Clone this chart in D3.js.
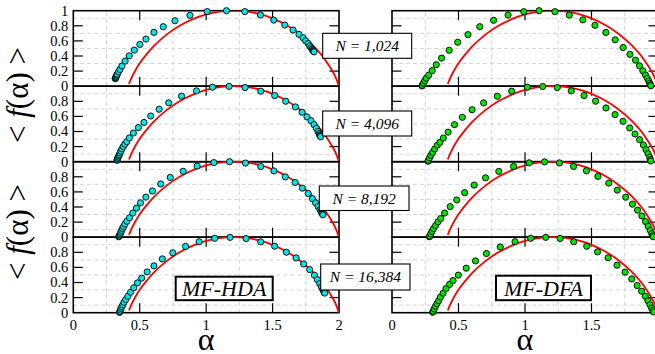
<!DOCTYPE html>
<html>
<head>
<meta charset="utf-8">
<script src="https://cdn.jsdelivr.net/npm/d3@7"></script>
<style>
  html, body { margin: 0; padding: 0; background: #fff; }
  svg, svg text { font-family: "Liberation Serif", "DejaVu Serif", serif; }
</style>
</head>
<body>
<script>
// Singularity spectra <f(alpha)> of a binomial cascade, estimated with
// MF-HDA (left column) and MF-DFA (right column) for four series lengths.

const sizeLabels = ["N = 1,024", "N = 4,096", "N = 8,192", "N = 16,384"];
const methodLabels = ["MF-HDA", "MF-DFA"];

const alphaTicks = [0, 0.5, 1, 1.5, 2];
const alphaTickLabels = ["0", "0.5", "1", "1.5", "2"];
const alphaGrid = [0.25, 0.75, 1.25, 1.75];
const fTicks = [0, 0.2, 0.4, 0.6, 0.8, 1];
const fTickLabels = ["0", "0.2", "0.4", "0.6", "0.8", "1"];
const fGrid = [0.1, 0.3, 0.5, 0.7, 0.9];

// theoretical spectrum (red line)
const theoryAlpha = [0.42, 0.425, 0.43, 0.44, 0.45, 0.47, 0.5, 0.55, 0.6, 0.7, 0.8, 0.9, 1.0, 1.1, 1.2, 1.3, 1.4, 1.5, 1.6, 1.7, 1.8, 1.9, 1.95, 1.98, 2.0];
const theoryF     = [0.03, 0.055, 0.077, 0.117, 0.152, 0.218, 0.303, 0.419, 0.521, 0.68, 0.80, 0.888, 0.95, 0.987, 1.0, 0.99, 0.957, 0.899, 0.814, 0.699, 0.546, 0.339, 0.202, 0.098, 0.0];

// MF-HDA estimates, [alpha, f]
const hda1024 = [[0.316,0.100],[0.318,0.106],[0.319,0.112],[0.321,0.120],[0.324,0.133],[0.327,0.146],[0.331,0.160],[0.340,0.190],[0.351,0.222],[0.366,0.268],[0.390,0.332],[0.421,0.402],[0.459,0.478],[0.501,0.554],[0.547,0.624],[0.607,0.713],[0.677,0.788],[0.765,0.867],[0.878,0.939],[1.008,0.988],[1.153,1.0],[1.291,0.988],[1.409,0.943],[1.509,0.876],[1.592,0.810],[1.654,0.744],[1.699,0.687],[1.729,0.642],[1.749,0.602],[1.767,0.567],[1.779,0.535],[1.790,0.509],[1.798,0.490],[1.803,0.477],[1.807,0.467],[1.810,0.460],[1.812,0.455]];
const hda4096 = [[0.329,0.018],[0.331,0.030],[0.334,0.045],[0.338,0.060],[0.343,0.078],[0.347,0.095],[0.352,0.117],[0.358,0.140],[0.366,0.170],[0.376,0.200],[0.388,0.232],[0.403,0.265],[0.422,0.315],[0.452,0.380],[0.490,0.452],[0.532,0.520],[0.583,0.605],[0.646,0.695],[0.718,0.780],[0.815,0.868],[0.927,0.938],[1.048,0.987],[1.173,0.998],[1.293,0.982],[1.411,0.934],[1.516,0.876],[1.599,0.801],[1.672,0.726],[1.722,0.655],[1.759,0.593],[1.789,0.544],[1.812,0.491],[1.830,0.442],[1.842,0.400],[1.850,0.370],[1.855,0.352],[1.859,0.340],[1.862,0.332]];
const hda8192 = [[0.342,0.006],[0.345,0.015],[0.349,0.030],[0.353,0.045],[0.358,0.066],[0.364,0.090],[0.370,0.115],[0.378,0.140],[0.388,0.173],[0.403,0.212],[0.423,0.258],[0.448,0.320],[0.476,0.385],[0.506,0.456],[0.546,0.531],[0.596,0.612],[0.658,0.705],[0.730,0.792],[0.827,0.873],[0.932,0.942],[1.058,0.988],[1.176,1.0],[1.296,0.982],[1.411,0.936],[1.510,0.878],[1.596,0.800],[1.670,0.725],[1.724,0.650],[1.768,0.580],[1.800,0.510],[1.824,0.455],[1.843,0.405],[1.857,0.365],[1.866,0.338],[1.872,0.318],[1.876,0.305],[1.879,0.296]];
const hda16384 = [[0.348,0.004],[0.351,0.015],[0.355,0.035],[0.359,0.058],[0.366,0.080],[0.373,0.105],[0.382,0.138],[0.395,0.175],[0.411,0.218],[0.431,0.270],[0.455,0.330],[0.483,0.395],[0.515,0.458],[0.556,0.540],[0.607,0.620],[0.670,0.713],[0.749,0.793],[0.845,0.878],[0.947,0.940],[1.064,0.985],[1.180,0.998],[1.301,0.982],[1.411,0.938],[1.516,0.881],[1.604,0.801],[1.677,0.726],[1.734,0.646],[1.779,0.571],[1.815,0.496],[1.837,0.438],[1.855,0.385],[1.868,0.340],[1.878,0.305],[1.885,0.282],[1.890,0.268],[1.893,0.260]];

// MF-DFA estimates, [alpha, f]
const dfa1024 = [[0.226,0.004],[0.228,0.012],[0.236,0.040],[0.246,0.071],[0.258,0.106],[0.276,0.146],[0.302,0.206],[0.333,0.285],[0.373,0.372],[0.430,0.476],[0.494,0.582],[0.571,0.683],[0.660,0.788],[0.764,0.873],[0.873,0.942],[0.991,0.987],[1.106,1.0],[1.225,0.987],[1.333,0.942],[1.435,0.879],[1.526,0.807],[1.608,0.712],[1.678,0.615],[1.738,0.513],[1.789,0.422],[1.831,0.345],[1.861,0.270],[1.886,0.204],[1.906,0.148],[1.920,0.104],[1.931,0.068],[1.938,0.038],[1.943,0.016],[1.946,0.006]];
const dfa4096 = [[0.271,0.006],[0.274,0.018],[0.282,0.050],[0.292,0.084],[0.305,0.122],[0.321,0.168],[0.341,0.219],[0.361,0.257],[0.386,0.314],[0.422,0.392],[0.470,0.491],[0.529,0.588],[0.602,0.688],[0.689,0.779],[0.792,0.867],[0.900,0.934],[1.018,0.987],[1.133,0.996],[1.243,0.982],[1.348,0.938],[1.444,0.876],[1.531,0.801],[1.609,0.712],[1.677,0.624],[1.737,0.535],[1.787,0.447],[1.827,0.367],[1.862,0.292],[1.890,0.221],[1.910,0.159],[1.925,0.106],[1.937,0.058],[1.943,0.028],[1.946,0.010]];
const dfa8192 = [[0.281,0.006],[0.284,0.015],[0.291,0.044],[0.301,0.078],[0.312,0.115],[0.328,0.155],[0.346,0.203],[0.366,0.248],[0.396,0.320],[0.438,0.405],[0.487,0.493],[0.546,0.590],[0.618,0.690],[0.703,0.786],[0.803,0.872],[0.914,0.937],[1.031,0.985],[1.147,0.998],[1.259,0.984],[1.365,0.938],[1.462,0.880],[1.548,0.806],[1.630,0.717],[1.694,0.624],[1.757,0.530],[1.808,0.438],[1.846,0.358],[1.879,0.281],[1.906,0.208],[1.926,0.146],[1.942,0.090],[1.953,0.046],[1.960,0.016],[1.963,0.006]];
const dfa16384 = [[0.306,0.006],[0.310,0.018],[0.317,0.050],[0.327,0.084],[0.338,0.120],[0.351,0.159],[0.364,0.206],[0.384,0.258],[0.406,0.320],[0.433,0.375],[0.459,0.426],[0.499,0.498],[0.558,0.590],[0.628,0.686],[0.710,0.784],[0.814,0.871],[0.925,0.940],[1.043,0.985],[1.156,0.998],[1.264,0.984],[1.366,0.940],[1.464,0.880],[1.545,0.806],[1.625,0.728],[1.692,0.630],[1.753,0.537],[1.803,0.447],[1.843,0.360],[1.877,0.285],[1.904,0.218],[1.924,0.158],[1.940,0.105],[1.952,0.060],[1.961,0.030],[1.968,0.010]];

const hdaSeries = [hda1024, hda4096, hda8192, hda16384];
const dfaSeries = [dfa1024, dfa4096, dfa8192, dfa16384];

const W = 655, H = 354;
const plotTop = 10.7, panelH = 75.5, nPanels = 4;
const plotBottom = plotTop + nPanels * panelH;
const tickLen = 9.5;
const serif = "Liberation Serif";

const svg = d3.select("body").append("svg")
  .attr("width", W).attr("height", H)
  .attr("viewBox", `0 0 ${W} ${H}`)
  .attr("font-family", serif);
svg.append("rect").attr("width", W).attr("height", H).attr("fill", "#fff");

const columns = [
  { x0: 73.3, x1: 339, series: hdaSeries, fill: "#00e6e6", method: methodLabels[0], fLabels: true,
    box: { x: 175.7, y: 276.7, w: 97, h: 23.5 } },
  { x0: 392, x1: 658, series: dfaSeries, fill: "#00e400", method: methodLabels[1], fLabels: false,
    box: { x: 496, y: 275.7, w: 95, h: 24.5 } }
];

const theory = theoryAlpha.map((a, i) => [a, theoryF[i]]);

columns.forEach((col, ci) => {
  const x = d3.scaleLinear().domain([0, 2]).range([col.x0, col.x1]);
  const g = svg.append("g");

  const clipId = "clip" + ci;
  svg.append("clipPath").attr("id", clipId).append("rect")
    .attr("x", col.x0).attr("y", plotTop).attr("width", col.x1 - col.x0).attr("height", plotBottom - plotTop);

  for (let p = 0; p < nPanels; p++) {
    const y = d3.scaleLinear().domain([0, 1]).range([plotTop + (p + 1) * panelH, plotTop + p * panelH]);
    const pg = g.append("g");

    // dashed grid at the minor positions
    pg.selectAll(".gx").data(alphaGrid).join("line")
      .attr("x1", d => x(d)).attr("x2", d => x(d))
      .attr("y1", y(0)).attr("y2", y(1))
      .attr("stroke", "#d4d4d4").attr("stroke-width", 1).attr("stroke-dasharray", "4,3");
    pg.selectAll(".gy").data(fGrid).join("line")
      .attr("x1", col.x0).attr("x2", col.x1)
      .attr("y1", d => y(d)).attr("y2", d => y(d))
      .attr("stroke", "#d4d4d4").attr("stroke-width", 1).attr("stroke-dasharray", "4,3");

    // inward major ticks on all four sides
    const innerA = alphaTicks.filter(d => d > 0 && d < 2);
    const innerF = fTicks.filter(d => d > 0 && d < 1);
    pg.selectAll(".tb").data(innerA).join("line")
      .attr("x1", d => x(d)).attr("x2", d => x(d))
      .attr("y1", y(0)).attr("y2", y(0) - tickLen)
      .attr("stroke", "#000").attr("stroke-width", 1.2);
    pg.selectAll(".tt").data(innerA).join("line")
      .attr("x1", d => x(d)).attr("x2", d => x(d))
      .attr("y1", y(1)).attr("y2", y(1) + tickLen)
      .attr("stroke", "#000").attr("stroke-width", 1.2);
    pg.selectAll(".tl").data(innerF).join("line")
      .attr("x1", col.x0).attr("x2", col.x0 + tickLen)
      .attr("y1", d => y(d)).attr("y2", d => y(d))
      .attr("stroke", "#000").attr("stroke-width", 1.2);
    pg.selectAll(".tr").data(innerF).join("line")
      .attr("x1", col.x1).attr("x2", col.x1 - tickLen)
      .attr("y1", d => y(d)).attr("y2", d => y(d))
      .attr("stroke", "#000").attr("stroke-width", 1.2);

    // panel frame
    pg.append("rect")
      .attr("x", col.x0).attr("y", y(1))
      .attr("width", col.x1 - col.x0).attr("height", y(0) - y(1))
      .attr("fill", "none").attr("stroke", "#000").attr("stroke-width", 1.6);

    // f tick labels on the left column only
    if (col.fLabels) {
      const shown = p === 0 ? fTicks : fTicks.filter(d => d < 1);
      svg.selectAll(null).data(shown).join("text")
        .attr("x", col.x0 - 5).attr("y", d => y(d)).attr("dy", "0.34em")
        .attr("text-anchor", "end").attr("font-family", serif).attr("font-size", 14.5).attr("fill", "#000")
        .text(d => fTickLabels[fTicks.indexOf(d)]);
    }

    // theoretical spectrum
    const line = d3.line().x(d => x(d[0])).y(d => y(d[1])).curve(d3.curveMonotoneX);
    pg.append("path").datum(theory)
      .attr("d", line).attr("fill", "none")
      .attr("stroke", "#ff0000").attr("stroke-width", 1.8)
      .attr("clip-path", `url(#${clipId})`);
  }

  // estimated spectra, drawn above all panels
  for (let p = 0; p < nPanels; p++) {
    const y = d3.scaleLinear().domain([0, 1]).range([plotTop + (p + 1) * panelH, plotTop + p * panelH]);
    g.append("g").selectAll("circle").data(col.series[p]).join("circle")
      .attr("cx", d => x(d[0])).attr("cy", d => y(d[1])).attr("r", 3.1)
      .attr("fill", col.fill).attr("stroke", "#000").attr("stroke-width", 0.9);
  }

  // alpha tick labels (only those inside the page)
  const visibleTicks = alphaTicks.filter(d => x(d) < W - 8);
  svg.selectAll(null).data(visibleTicks).join("text")
    .attr("x", d => x(d)).attr("y", 329.5)
    .attr("text-anchor", "middle").attr("font-family", serif).attr("font-size", 14.5).attr("fill", "#000")
    .text(d => alphaTickLabels[alphaTicks.indexOf(d)]);

  // alpha axis title
  svg.append("text")
    .attr("x", (col.x0 + col.x1) / 2).attr("y", 350)
    .attr("text-anchor", "middle").attr("font-family", serif).attr("font-size", 32).attr("fill", "#000")
    .text("α");

  // method label
  svg.append("rect")
    .attr("x", col.box.x).attr("y", col.box.y).attr("width", col.box.w).attr("height", col.box.h)
    .attr("fill", "#fff").attr("stroke", "#000").attr("stroke-width", 2);
  svg.append("text")
    .attr("x", col.box.x + col.box.w / 2).attr("y", col.box.y + col.box.h / 2).attr("dy", "0.35em")
    .attr("text-anchor", "middle").attr("font-family", serif).attr("font-size", 22)
    .attr("font-style", "italic").attr("fill", "#000")
    .text(col.method);
});

// series-length labels between the columns
const sizeBoxes = [
  { x: 322.7, y: 33.3, w: 89, h: 25 },
  { x: 322.7, y: 111, w: 89, h: 25 },
  { x: 319.3, y: 186, w: 89.7, h: 24.5 },
  { x: 320.7, y: 264, w: 89.3, h: 26 }
];
sizeLabels.forEach((lab, i) => {
  const b = sizeBoxes[i];
  svg.append("rect")
    .attr("x", b.x).attr("y", b.y).attr("width", b.w).attr("height", b.h)
    .attr("fill", "#fff").attr("stroke", "#000").attr("stroke-width", 1.1);
  svg.append("text")
    .attr("x", b.x + b.w / 2).attr("y", b.y + b.h / 2).attr("dy", "0.35em")
    .attr("text-anchor", "middle").attr("font-family", serif).attr("font-size", 15.5)
    .attr("font-style", "italic").attr("fill", "#000")
    .text(lab);
});

// vertical axis titles
[95, 232].forEach(cy => {
  const t = svg.append("text")
    .attr("transform", `translate(28,${cy}) rotate(-90)`)
    .attr("text-anchor", "middle").attr("font-family", serif).attr("font-size", 31).attr("fill", "#000");
  t.append("tspan").text("< ");
  t.append("tspan").attr("font-style", "italic").text("f");
  t.append("tspan").text("(α) >");
});
</script>
</body>
</html>
